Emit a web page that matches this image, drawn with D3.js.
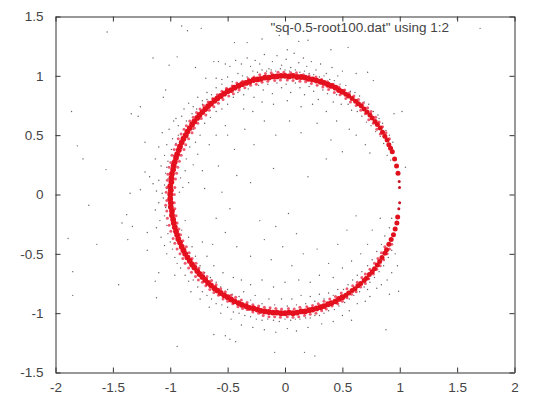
<!DOCTYPE html>
<html><head><meta charset="utf-8"><script src="https://cdn.jsdelivr.net/npm/d3@7"></script>
<style>html,body{margin:0;background:#fff}text{font-family:"Liberation Sans",Arial,sans-serif}</style></head>
<body><svg id="c" width="540" height="405"></svg>
<script>
const keyLabel = '"sq-0.5-root100.dat" using 1:2';
const xTicks = [-2,-1.5,-1,-0.5,0,0.5,1,1.5,2];
const yTicks = [-1.5,-1,-0.5,0,0.5,1,1.5];
const tipPoints = [[.998,.06],[.995,.11],[.999,-.07],[.992,-.12]];
const arcPoints = [[.985,.18],[.972,.24],[.955,.3],[.935,.36],[.92,.39],[.905,.42],[.89,.46],[.87,.49],[.85,.525],[.83,.56],[.805,.59],[.785,.615],[.76,.645],[.74,.67],[.715,.695],[.69,.72],[.665,.745],[.64,.765],[.615,.785],[.585,.81],[.555,.83],[.53,.845],[.982,-.19],[.975,-.24],[.96,-.29],[.945,-.34],[.925,-.38],[.905,-.42],[.885,-.465],[.87,-.495],[.845,-.53],[.825,-.565],[.805,-.595],[.78,-.625],[.76,-.65],[.735,-.675],[.71,-.705],[.69,-.725],[.66,-.75],[.635,-.77],[.61,-.795],[.585,-.81],[.555,-.83],[.53,-.85]];
const ringPoints = [[.5,.865],[.47,.88],[.44,.9],[.405,.915],[.375,.925],[.34,.94],[.31,.95],[.275,.96],[.24,.97],[.205,.975],[.175,.985],[.14,.99],[.105,.99],[.07,1],[.035,.995],[0,1],[-.035,1],[-.07,.995],[-.105,.995],[-.14,.985],[-.175,.985],[-.21,.975],[-.24,.97],[-.275,.965],[-.31,.95],[-.34,.94],[-.375,.93],[-.405,.915],[-.44,.9],[-.47,.88],[-.5,.87],[-.53,.85],[-.56,.83],[-.59,.81],[-.615,.79],[-.645,.765],[-.67,.745],[-.695,.72],[-.72,.695],[-.745,.67],[-.765,.645],[-.79,.615],[-.81,.59],[-.83,.56],[-.85,.53],[-.865,.5],[-.885,.47],[-.9,.44],[-.915,.405],[-.925,.375],[-.94,.34],[-.95,.31],[-.96,.275],[-.97,.245],[-.975,.21],[-.985,.175],[-.99,.14],[-.99,.105],[-1,.07],[-.995,.035],[-1,0],[-1,-.035],[-.995,-.07],[-.995,-.105],[-.985,-.14],[-.985,-.175],[-.975,-.21],[-.97,-.24],[-.96,-.275],[-.95,-.31],[-.94,-.34],[-.93,-.375],[-.915,-.405],[-.9,-.44],[-.885,-.47],[-.87,-.5],[-.85,-.53],[-.83,-.56],[-.81,-.59],[-.79,-.615],[-.765,-.645],[-.745,-.67],[-.72,-.695],[-.695,-.72],[-.67,-.745],[-.645,-.765],[-.615,-.79],[-.59,-.81],[-.56,-.83],[-.53,-.85],[-.5,-.865],[-.47,-.885],[-.44,-.9],[-.405,-.915],[-.375,-.93],[-.34,-.94],[-.31,-.955],[-.275,-.96],[-.24,-.97],[-.21,-.98],[-.175,-.985],[-.14,-.99],[-.105,-.995],[-.07,-.995],[-.035,-1],[0,-1],[.035,-.995],[.07,-1],[.105,-.995],[.14,-.985],[.175,-.985],[.21,-.975],[.24,-.97],[.275,-.96],[.31,-.95],[.34,-.94],[.375,-.925],[.405,-.915],[.44,-.9],[.47,-.88],[.5,-.865]];
const bandFuzz = [[-1.035,.02],[-1.03,-.05],[-1.04,-.09],[-1.03,-.14],[-1.025,-.2],[-1.01,-.26],[-.995,-.31],[-.975,-.37],[-.96,-.41],[-.94,-.46],[-.915,-.5],[-.89,-.54],[-.87,-.58],[-.84,-.62],[-.815,-.655],[-.78,-.69],[-.755,-.72],[-.72,-.74],[-.69,-.77],[-.655,-.8],[-.62,-.825],[-.58,-.85],[-.54,-.88],[-.5,-.9],[-.455,-.92],[-.41,-.945],[-.37,-.96],[-.33,-.97],[-.28,-.99],[-.23,-1],[-.19,-1.02],[-.14,-1.03],[-.09,-1.03],[-.04,-1.035],[.02,-1.03],[.07,-1.035],[.12,-1.03],[.17,-1.02],[.22,-1.01],[.27,-1],[.32,-.98],[.36,-.965],[.41,-.94],[.46,-.92],[.5,-.9],[.54,-.87],[.58,-.84],[.62,-.82],[.66,-.78],[.7,-.75],[.73,-.71],[.77,-.67],[.8,-.63],[.83,-.6],[.86,-.55],[.89,-.5],[.91,-.46],[.93,-.42],
[-.965,.0],[-.965,-.07],[-.96,-.12],[-.95,-.18],[-.94,-.24],[-.925,-.29],[-.91,-.34],[-.89,-.39],[-.86,-.44],[-.835,-.49],[-.81,-.54],[-.775,-.58],[-.75,-.62],[-.71,-.66],[-.68,-.69],[-.64,-.725],[-.6,-.76],[-.56,-.795],[-.52,-.82],[-.47,-.85],[-.43,-.865],[-.38,-.89],[-.33,-.91],[-.28,-.93],[-.23,-.94],[-.18,-.95],[-.13,-.955],[-.08,-.96],[-.03,-.965],[.03,-.96],[.08,-.965],[.13,-.95],[.19,-.945],[.24,-.935],[.29,-.92],[.34,-.9],[.39,-.88],[.44,-.86],[.49,-.83],[.54,-.795],[.59,-.77],[.63,-.74],[.67,-.7],[.7,-.67],[.74,-.63],[.78,-.58],[.81,-.54],[.84,-.49],[.87,-.44],
[-1.03,.06],[-1.025,.12],[-1.02,.17],[-1.01,.23],[-.995,.27],[-.985,.33],[-.965,.38],[-.95,.42],[-.93,.47],[-.905,.51],[-.88,.55],[-.86,.58],[-.83,.62],[-.8,.65],[-.77,.69],[-.74,.72],[-.71,.75],[-.67,.78],[-.63,.81],[-.59,.84],[-.55,.87],[-.51,.895],[-.46,.915],[-.42,.94],[-.37,.955],[-.32,.975],[-.27,.99],[-.22,1.01],[-.17,1.02],[-.12,1.025],[-.06,1.03],[-.01,1.03],[.05,1.025],[.1,1.025],[.16,1.01],[.21,1],[.27,.99],[.32,.97],[.37,.95],[.42,.93],[.47,.905],[.52,.88],[.56,.855],[.6,.83],[.64,.8],[.68,.77],[.72,.73],[.75,.7],[.79,.65],[.82,.61],[.85,.57],[.88,.52],[.91,.47],
[-.96,.06],[-.955,.13],[-.945,.18],[-.935,.23],[-.92,.28],[-.905,.33],[-.88,.38],[-.865,.42],[-.84,.47],[-.81,.52],[-.79,.56],[-.76,.6],[-.73,.64],[-.69,.67],[-.66,.71],[-.62,.74],[-.58,.77],[-.54,.8],[-.49,.83],[-.45,.85],[-.4,.88],[-.35,.9],[-.3,.92],[-.25,.93],[-.2,.945],[-.15,.955],[-.09,.96],[-.04,.965],[.02,.965],[.07,.96],[.13,.955],[.18,.95],[.23,.935],[.28,.92],[.33,.905],[.38,.885],[.43,.86],[.48,.84],[.53,.81],[.57,.78],[.62,.75],[.66,.71],[.7,.68],[.73,.63],[.77,.6],[.8,.55],[.83,.51]];
const farSpecks = [[-1.55,1.37],[-.9,1.42],[-.85,1.38],[-.73,1.4],[-1.15,1.15],[-.94,1.16],[-1.01,1.09],[-1.86,.7],[-1.81,.41],[-1.76,.3],[-1.56,.21],[-1.34,.68],[-1.28,.66],[-1.26,.74],[-1.22,.44],[-1.04,.88],[-1.06,.82],[-1.35,.01],[-1.26,.04],[-1.22,.19],[-1.71,-.09],[-1.38,-.17],[-1.42,-.24],[-1.33,-.27],[-1.37,-.38],[-1.2,-.32],[-1.2,-.47],[-1.89,-.37],[-1.64,-.42],[-1.85,-.65],[-1.85,-.85],[-1.45,-.76],[-1.13,-.73],[-1.1,-.66],[-1.12,-.87],[-.94,-1.28],[-.52,-1.19],[-.43,-1.24],[-.48,-1.22],[-.62,-1.18],[1.7,1.4],[1.5,1.48],[1.02,.7],[1.05,.23],[.88,-1.14],[.91,-.84],[.99,-.815],[.58,-1.06],[.26,-1.36],[.17,-1.33],[-.09,-1.33],[-.33,1.28],[-.2,1.31],[-.05,1.34],[.02,1.22],[.12,1.29],[.2,1.3],[.4,1.22],[.55,1.24],[.77,.96],[.72,1.03],[.62,1.02],[.95,.68],[.82,.64],[-.44,1.28],[-.62,1.12],[-.78,1.07],[-.69,.98]];
const nearSpecks = [
[-.58,1.12],[-.52,1.1],[-.48,1.08],[-.43,1.13],[-.38,1.1],[-.33,1.15],[-.3,1.08],[-.26,1.13],[-.22,1.1],[-.18,1.18],[-.14,1.06],[-.11,1.12],[-.07,1.17],[-.03,1.09],[.01,1.14],[.05,1.07],[.08,1.19],[.12,1.11],[.16,1.15],[.19,1.08],[.23,1.12],[.27,1.05],[.31,1.1],[.36,1.02],[.41,1.07],[.46,1],[.5,1.04],
[-.6,.98],[-.55,.97],[-.5,.99],[-.46,.95],[-.41,1.02],[-.37,1],[-.33,.99],[-.28,1.04],[-.24,1.03],[-.2,1.05],[-.16,1.04],[-.12,1.05],[-.08,1.04],[-.04,1.06],[0,1.05],[.04,1.04],[.09,1.05],[.13,1.03],[.17,1.04],[.21,1.02],[.25,1.01],[.3,.99],[.34,1],[.39,.97],[.43,.96],[.48,.93],[.53,.92],[.57,.87],[.61,.86],[.65,.83],[.69,.78],[.73,.76],[.77,.7],[.81,.67],[.85,.6],[.88,.54],[.91,.5],[.94,.44],
[-.45,.82],[-.41,.86],[-.36,.84],[-.32,.89],[-.27,.82],[-.23,.92],[-.19,.88],[-.15,.93],[-.11,.85],[-.07,.94],[-.03,.9],[.01,.93],[.05,.86],[.09,.94],[.13,.9],[.17,.84],[.21,.91],[.25,.87],[.29,.8],[.33,.88],[.37,.85],[.42,.78],[.45,.84],[.49,.76],[.55,.76],[.58,.71],[.63,.7],[.67,.66],[.71,.61],[.75,.58],[.79,.53],[.83,.49],[.86,.43],[.89,.33],[.92,.29],
[-.36,.72],[-.28,.7],[-.2,.78],[-.1,.76],[.02,.79],[.14,.74],[.24,.76],[.36,.7],[.45,.62],[.56,.55],[.62,.5],[.7,.42],[.74,.35],
[-.88,.72],[-.84,.77],[-.8,.74],[-.76,.82],[-.72,.79],[-.68,.86],[-.64,.84],[-.6,.9],[-.55,.93],[-.97,.62],[-.93,.58],[-.9,.66],[-.86,.62],[-.81,.68],[-.77,.72],[-.72,.76],[-.68,.8],[-.98,.47],[-1.03,.42],[-.99,.38],[-1.05,.33],[-1.02,.28],[-1.08,.24],[-1.04,.18],[-1.1,.12],[-1.05,.08],[-1.12,.03],[-1.07,.01],[-.97,.33],[-.95,.43],[-.93,.5],[-1.03,.23],[-1.02,.13],[-1.03,.05],[-1.15,.09],[-1.18,.15],[-1.1,.4],[-1.13,.3],[-1.07,.52],[-1.01,.55],[-.95,.64],
[-.78,.44],[-.83,.4],[-.76,.34],[-.86,.3],[-.8,.25],[-.87,.2],[-.91,.14],[-.84,.1],[-.89,.06],[-.92,.02],[-.8,.55],[-.74,.5],[-.7,.6],[-.65,.65],[-.6,.7],[-.55,.72],[-.5,.76],[-.66,.42],[-.6,.5],[-.52,.58],[-.72,.2],[-.7,.05],
[-1.06,-.03],[-1.1,-.07],[-1.04,-.11],[-1.13,-.13],[-1.05,-.18],[-1.09,-.22],[-1.03,-.26],[-1.12,-.28],[-1.02,-.33],[-1.08,-.36],[-1,-.4],[-1.05,-.43],[-.98,-.46],[-1.03,-.5],[-.96,-.53],[-.94,-.58],[-.91,-.62],[-.96,-.68],[-.87,-.68],[-.84,-.73],[-.8,-.72],[-.76,-.78],[-.82,-.82],[-.72,-.82],[-.68,-.85],[-.74,-.88],[-.64,-.88],[-.6,-.92],[-.66,-.95],[-.55,-.93],[-.5,-.95],[-.56,-1],[-.45,-.99],[-.4,-1],[-.47,-1.05],[-.35,-1.02],[-.3,-1.03],[-.38,-1.1],[-.25,-1.05],[-.2,-1.06],[-.28,-1.12],[-.15,-1.05],[-.1,-1.06],[-.18,-1.14],[-.05,-1.07],[0,-1.05],[-.08,-1.16],[.05,-1.06],[.09,-1.05],[.02,-1.13],[.13,-1.05],[.18,-1.04],[.1,-1.15],[.22,-1.04],[.26,-1.02],[.2,-1.12],[.3,-1.02],[.34,-1],[.38,-.98],[.32,-1.09],[.43,-.97],[.47,-.94],[.42,-1.07],[.52,-.91],[.56,-.88],[.6,-.85],[.65,-.82],[.69,-.78],[.74,-.74],[.78,-.7],[.82,-.65],[.86,-.6],[.9,-.53],[.93,-.47],
[-.9,-.3],[-.87,-.22],[-.84,-.36],[-.81,-.44],[-.88,-.48],[-.78,-.52],[-.74,-.6],[-.7,-.66],[-.65,-.7],[-.6,-.74],[-.56,-.78],[-.5,-.8],[-.46,-.84],[-.4,-.86],[-.36,-.82],[-.3,-.89],[-.26,-.85],[-.2,-.92],[-.14,-.88],[-.09,-.93],[-.03,-.88],[.02,-.94],[.06,-.88],[.1,-.93],[.14,-.85],[.18,-.92],[.22,-.86],[.26,-.9],[.3,-.84],[.34,-.88],[.38,-.83],[.42,-.85],[.46,-.8],[.51,-.8],[.55,-.76],[.59,-.72],[.63,-.68],[.67,-.65],[.72,-.6],[.76,-.55],[.8,-.48],[.84,-.42],[.87,-.35],[.91,-.28],[.93,-.2],
[-.68,-.52],[-.72,-.4],[-.62,-.6],[-.54,-.66],[-.45,-.7],[-.38,-.72],[-.3,-.76],[-.2,-.72],[-.1,-.78],[0,-.74],[.12,-.72],[.22,-.74],[.3,-.68],[.42,-.7],[.5,-.62],[.58,-.56],[.66,-.5],[.72,-.42],[.76,-.3],[.83,-.2],[.98,-.6],[.96,-.5],[.93,-.66],[.89,-.72],[.84,-.76],[.8,-.79],[.74,-.86],[.7,-.9],[.63,-.92],[.56,-.98],[.5,-1.02],[.78,-.63],[.72,-.8]
];
const innerSpecks = [[-.5,.5],[-.44,.38],[-.35,.55],[-.27,.42],[-.18,.62],[-.08,.5],[.04,.62],[.14,.52],[.28,.6],[.4,.46],[.5,.36],[-.58,.24],[-.42,.16],[-.55,.02],[-.48,-.12],[-.6,-.2],[-.52,-.32],[-.42,-.44],[-.3,-.52],[-.18,-.38],[-.12,-.55],[-.02,-.44],[.06,-.6],[.16,-.5],[.1,-.33],[-.08,-.27],[-.22,-.22],[.28,-.46],[.38,-.58],[.46,-.42],[.54,-.3],[.62,-.18],[.03,-.16],[-.3,.1],[.2,.15],[-.1,.22],[.36,.3],[-.63,-.42]];

const svg = d3.select('#c');
const x = d3.scaleLinear().domain([-2,2]).range([55.5,514.5]);
const y = d3.scaleLinear().domain([-1.5,1.5]).range([372.5,16.5]);
const dots = (data, r, color, op = 1) => svg.append('g').selectAll('circle').data(data).join('circle')
  .attr('cx', d => x(d[0])).attr('cy', d => y(d[1])).attr('r', r).attr('fill', color).attr('fill-opacity', op);

dots(farSpecks, .7, '#666');
dots(nearSpecks, .7, '#6a5a5a');
dots(innerSpecks, .7, '#666');
dots(bandFuzz, 1.5, '#e8304a', .8);
dots(ringPoints, 2.9, '#e4101e');
dots(arcPoints, 2.5, '#e0101c');
dots(tipPoints, 1.5, '#c81020');

const fmt = d => String(d);
const style = (g) => { g.select('.domain').attr('stroke','#333').attr('stroke-width',1);
  g.selectAll('.tick line').attr('stroke','#333');
  g.selectAll('text').attr('fill','#444').attr('font-size',13.5); };
svg.append('g').attr('transform','translate(0,372.5)').call(d3.axisBottom(x).tickValues(xTicks).tickFormat(fmt).tickSize(-5).tickPadding(10).tickSizeOuter(0)).call(style);
svg.append('g').attr('transform','translate(55.5,0)').call(d3.axisLeft(y).tickValues(yTicks).tickFormat(fmt).tickSize(-5).tickPadding(12).tickSizeOuter(0)).call(style);
svg.append('g').attr('transform','translate(0,16.5)').call(d3.axisTop(x).tickValues(xTicks).tickFormat('').tickSize(-5).tickSizeOuter(0)).call(style);
svg.append('g').attr('transform','translate(514.5,0)').call(d3.axisRight(y).tickValues(yTicks).tickFormat('').tickSize(-5).tickSizeOuter(0)).call(style);
svg.append('text').attr('x',449).attr('y',31.5).attr('text-anchor','end').attr('fill','#444').attr('font-size',13.5).text(keyLabel);
</script></body></html>
